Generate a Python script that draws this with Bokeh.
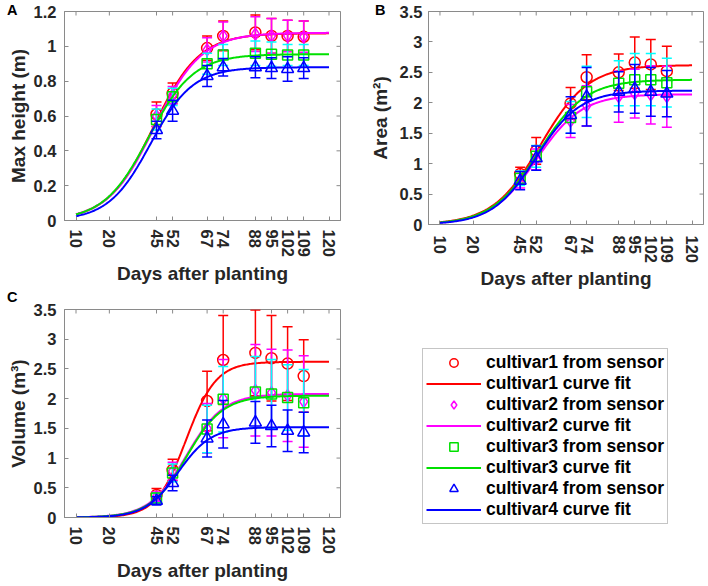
import numpy as np
from bokeh.plotting import figure
from bokeh.models import (ColumnDataSource, FixedTicker, LinearAxis, Range1d,
                          Legend, LegendItem, Div, GridBox)
from bokeh.embed import file_html
from bokeh.resources import INLINE

# ---------------- data ----------------
days = [45, 52, 67, 74, 88, 95, 102, 109]
x_tick_values = [10, 24.5, 45, 52, 67, 74, 88, 95, 102, 109, 120]
x_tick_labels = ["10", "20", "45", "52", "67", "74", "88", "95", "102", "109", "120"]
x_start, x_end = 5, 125
fit_start, fit_end = 10, 120
cultivars = ["cultivar1", "cultivar2", "cultivar3", "cultivar4"]

# Panel A: max height (m)
height_c1 = [0.61, 0.73, 0.99, 1.06, 1.08, 1.06, 1.06, 1.055]
height_c1_err = [0.07, 0.06, 0.07, 0.085, 0.10, 0.10, 0.09, 0.09]
height_c2 = [0.60, 0.72, 0.98, 1.06, 1.07, 1.06, 1.06, 1.055]
height_c2_err = [0.06, 0.05, 0.07, 0.08, 0.10, 0.10, 0.09, 0.09]
height_c3 = [0.58, 0.71, 0.90, 0.95, 0.96, 0.955, 0.95, 0.95]
height_c3_err = [0.06, 0.05, 0.06, 0.06, 0.07, 0.07, 0.06, 0.06]
height_c4 = [0.52, 0.63, 0.83, 0.88, 0.88, 0.875, 0.87, 0.875]
height_c4_err = [0.05, 0.06, 0.06, 0.05, 0.06, 0.06, 0.07, 0.06]
height_fit_K = [1.075, 1.078, 0.955, 0.88]
height_fit_rate = [0.100, 0.098, 0.103, 0.109]
height_fit_mid = [43.7, 44.2, 41.6, 42.4]

# Panel B: area (m^2)
area_c1 = [0.83, 1.21, 1.99, 2.42, 2.50, 2.66, 2.63, 2.52]
area_c1_err = [0.11, 0.22, 0.26, 0.37, 0.30, 0.42, 0.41, 0.41]
area_c2 = [0.72, 1.07, 1.70, 1.95, 2.10, 2.15, 2.13, 2.10]
area_c2_err = [0.12, 0.17, 0.27, 0.33, 0.42, 0.40, 0.48, 0.50]
area_c3 = [0.76, 1.12, 1.76, 2.18, 2.32, 2.38, 2.38, 2.33]
area_c3_err = [0.12, 0.18, 0.26, 0.42, 0.37, 0.43, 0.43, 0.40]
area_c4 = [0.72, 1.09, 1.80, 2.10, 2.18, 2.23, 2.18, 2.15]
area_c4_err = [0.15, 0.20, 0.30, 0.48, 0.33, 0.40, 0.40, 0.38]
area_fit_K = [2.62, 2.14, 2.38, 2.20]
area_fit_rate = [0.096, 0.101, 0.098, 0.105]
area_fit_mid = [53.9, 52.1, 53.0, 51.9]

# Panel C: volume (m^3)
volume_c1 = [0.38, 0.80, 1.96, 2.65, 2.77, 2.68, 2.59, 2.38]
volume_c1_err = [0.11, 0.18, 0.50, 0.75, 0.72, 0.72, 0.62, 0.61]
volume_c2 = [0.35, 0.78, 1.50, 2.00, 2.14, 2.10, 2.05, 1.95]
volume_c2_err = [0.08, 0.15, 0.42, 0.66, 0.77, 0.73, 0.77, 0.77]
volume_c3 = [0.33, 0.75, 1.49, 1.99, 2.11, 2.08, 2.02, 1.93]
volume_c3_err = [0.08, 0.15, 0.40, 0.55, 0.60, 0.58, 0.55, 0.56]
volume_c4 = [0.28, 0.58, 1.33, 1.57, 1.60, 1.54, 1.46, 1.43]
volume_c4_err = [0.07, 0.13, 0.31, 0.40, 0.35, 0.35, 0.35, 0.34]
volume_fit_K = [2.62, 2.08, 2.05, 1.52]
volume_fit_rate = [0.153, 0.125, 0.127, 0.141]
volume_fit_mid = [57.9, 58.0, 58.1, 54.4]

y_ticks_height = [0, 0.2, 0.4, 0.6, 0.8, 1.0, 1.2]
y_labels_height = ["0", "0.2", "0.4", "0.6", "0.8", "1", "1.2"]
y_ticks_35 = [0, 0.5, 1.0, 1.5, 2.0, 2.5, 3.0, 3.5]
y_labels_35 = ["0", "0.5", "1", "1.5", "2", "2.5", "3", "3.5"]

# ---------------- style ----------------
FONT = "Liberation Sans"
TXT = "#262626"
AXC = "#8a8a8a"
marker_colors = ["#ff0000", "#ff00ff", "#00e000", "#0000ff"]
bar_colors = ["#ff0000", "#ff00ff", "#00ffff", "#0000ff"]
line_colors = ["#ff0000", "#ff00ff", "#00e000", "#0000ff"]
markers = ["circle", "diamond", "square", "triangle"]
marker_sizes = [11, 12, 10, 12]


def logistic(x, K, r, t0):
    return K / (1.0 + np.exp(-r * (x - t0)))


def style_axis(ax, standoff):
    ax.axis_line_color = AXC
    ax.axis_line_width = 1
    ax.major_tick_line_color = AXC
    ax.major_tick_in = 4
    ax.major_tick_out = 0
    ax.minor_tick_line_color = None
    ax.major_label_text_font = FONT
    ax.major_label_text_font_style = "bold"
    ax.major_label_text_color = TXT
    ax.major_label_text_font_size = "16.5px"
    ax.major_label_standoff = standoff
    ax.axis_label_text_font = FONT
    ax.axis_label_text_font_style = "bold"
    ax.axis_label_text_font_size = "19px"
    ax.axis_label_text_color = TXT


def make_panel(width, height, borders, y_end, y_ticks, y_labels, ylabel,
               means, errs, K, rate, mid,
               x_standoff, xlab_standoff, y_standoff, ylab_standoff):
    bl, br, bt, bb = borders
    p = figure(width=width, height=height, output_backend="svg",
               toolbar_location=None, x_range=Range1d(x_start, x_end),
               y_range=Range1d(0, y_end), x_axis_location=None,
               y_axis_location=None, min_border_left=bl, min_border_right=br,
               min_border_top=bt, min_border_bottom=bb, frame_align=False)
    p.outline_line_color = AXC
    p.outline_line_width = 1
    p.xgrid.visible = False
    p.ygrid.visible = False
    p.background_fill_color = "white"
    p.border_fill_alpha = 0

    x_over = {v: s for v, s in zip(x_tick_values, x_tick_labels)}
    y_over = {v: s for v, s in zip(y_ticks, y_labels)}

    xb = LinearAxis(ticker=FixedTicker(ticks=x_tick_values),
                    major_label_overrides=x_over, axis_label="Days after planting")
    style_axis(xb, x_standoff)
    xb.major_label_orientation = -np.pi / 2
    xb.axis_label_standoff = xlab_standoff
    p.add_layout(xb, "below")

    yl = LinearAxis(ticker=FixedTicker(ticks=y_ticks),
                    major_label_overrides=y_over, axis_label=ylabel)
    style_axis(yl, y_standoff)
    yl.axis_label_standoff = ylab_standoff
    p.add_layout(yl, "left")

    # inward tick marks on the top and right edges of the box
    p.scatter(x=x_tick_values, y=[y_end] * len(x_tick_values), marker="dash",
              angle=np.pi / 2, size=8, line_color=AXC, line_width=1)
    p.scatter(x=[x_end] * len(y_ticks), y=y_ticks, marker="dash",
              size=8, line_color=AXC, line_width=1)

    x_fit = np.linspace(fit_start, fit_end, 221)
    for i in range(4):
        m = np.array(means[i])
        e = np.array(errs[i])
        src = ColumnDataSource(dict(x=days, y=m, lo=m - e, hi=m + e))
        p.segment(x0="x", y0="lo", x1="x", y1="hi", source=src,
                  line_color=bar_colors[i], line_width=1.5)
        p.scatter(x="x", y="hi", source=src, marker="dash", size=10,
                  line_color=bar_colors[i], line_width=1.5)
        p.scatter(x="x", y="lo", source=src, marker="dash", size=10,
                  line_color=bar_colors[i], line_width=1.5)
        p.scatter(x="x", y="y", source=src, marker=markers[i],
                  size=marker_sizes[i], fill_color=None,
                  line_color=marker_colors[i], line_width=1.5)
        p.line(x_fit, logistic(x_fit, K[i], rate[i], mid[i]),
               line_color=line_colors[i], line_width=2)
    return p


pA = make_panel(364, 292, (64, 24, 11, 72), 1.2, y_ticks_height,
                y_labels_height, "Max height (m)",
                [height_c1, height_c2, height_c3, height_c4],
                [height_c1_err, height_c2_err, height_c3_err, height_c4_err],
                height_fit_K, height_fit_rate, height_fit_mid,
                9, 3, 8, 2)

pB = make_panel(342, 292, (64, 3, 11, 68), 3.5, y_ticks_35, y_labels_35,
                "Area (m\u00b2)",
                [area_c1, area_c2, area_c3, area_c4],
                [area_c1_err, area_c2_err, area_c3_err, area_c4_err],
                area_fit_K, area_fit_rate, area_fit_mid,
                11, 2, 6, 6)

pC = make_panel(364, 292, (64, 24, 17, 66), 3.5, y_ticks_35,
                y_labels_35, "Volume (m\u00b3)",
                [volume_c1, volume_c2, volume_c3, volume_c4],
                [volume_c1_err, volume_c2_err, volume_c3_err, volume_c4_err],
                volume_fit_K, volume_fit_rate, volume_fit_mid,
                9, 3, 8, 2)

# ---------------- legend panel ----------------
# The legend lives in its own (axis-less) plot; its renderers repeat panel C's
# series but fall outside this plot's ranges, so only their legend icons show.
pL = figure(width=342, height=292, output_backend="svg", toolbar_location=None,
            x_range=Range1d(0, 1), y_range=Range1d(-2, -1),
            x_axis_location=None, y_axis_location=None,
            min_border_left=0, min_border_right=0, min_border_top=0,
            min_border_bottom=0, frame_align=False)
pL.outline_line_color = None
pL.xgrid.visible = False
pL.ygrid.visible = False
pL.border_fill_alpha = 0
pL.background_fill_alpha = 0

vol_means = [volume_c1, volume_c2, volume_c3, volume_c4]
x_fit_l = np.linspace(fit_start, fit_end, 221)
items = []
for i, name in enumerate(cultivars):
    mr = pL.scatter(x=days, y=vol_means[i], marker=markers[i],
                    size=marker_sizes[i], fill_color=None,
                    line_color=marker_colors[i], line_width=1.5)
    lr = pL.line(x=x_fit_l, y=logistic(x_fit_l, volume_fit_K[i],
                                       volume_fit_rate[i], volume_fit_mid[i]),
                 line_color=line_colors[i], line_width=2)
    items.append(LegendItem(label=name + " from sensor", renderers=[mr]))
    items.append(LegendItem(label=name + " curve fit", renderers=[lr]))

legend = Legend(items=items, location=(58, 60), orientation="vertical",
                glyph_width=55, glyph_height=21, label_height=21,
                label_standoff=5, spacing=0, padding=3, margin=0,
                border_line_color="#8c8c8c", border_line_width=1,
                background_fill_color="white", background_fill_alpha=1.0,
                label_text_font=FONT, label_text_font_style="bold",
                label_text_font_size="17.5px", label_text_color="black")
pL.add_layout(legend, "center")


def letter_div(ch, left_pad, top_shift):
    html = ('<span style="font-family:\'Liberation Sans\';font-weight:bold;'
            'font-size:14.5px;line-height:15px;color:black;position:relative;'
            'top:%dpx;padding-left:%dpx;">%s</span>' % (top_shift, left_pad, ch))
    return Div(text=html, width=30, height=16, margin=0,
               styles={"position": "relative", "z-index": "5"})


grid = GridBox(children=[(pA, 0, 0), (pB, 0, 1), (pC, 1, 0), (pL, 1, 1),
                         (letter_div("A", 7, 3), 0, 0),
                         (letter_div("B", 11, 3), 0, 1),
                         (letter_div("C", 7, -2), 1, 0)],
               spacing=0)

open("out.html", "w").write(file_html(grid, INLINE))
